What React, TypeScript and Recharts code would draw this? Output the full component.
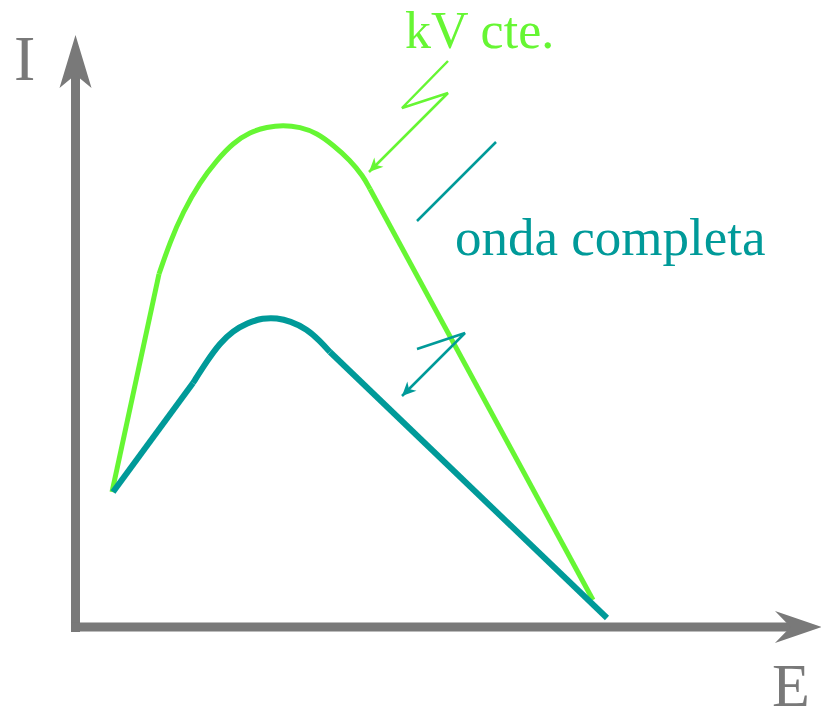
import { LineChart, Line, XAxis, YAxis, ReferenceLine, ReferenceDot } from "recharts";

// E (x) and I (y) readings, origin at the axis corner
const GREEN_RISE = [
  { x: 37, y: 135 },
  { x: 84, y: 353 },
];
const GREEN_ARC = [
  { x: 84, y: 353 },
  { x: 95, y: 385 },
  { x: 108, y: 415 },
  { x: 125, y: 445 },
  { x: 142, y: 467 },
  { x: 158, y: 484 },
  { x: 175, y: 495 },
  { x: 192, y: 500 },
  { x: 208, y: 502 },
  { x: 225, y: 500 },
  { x: 242, y: 494 },
  { x: 258, y: 482 },
  { x: 275, y: 467 },
  { x: 288, y: 451 },
  { x: 295, y: 438 },
];
const GREEN_FALL = [
  { x: 295, y: 438 },
  { x: 518, y: 27 },
];

const TEAL_RISE = [
  { x: 38, y: 135 },
  { x: 118, y: 244 },
];
const TEAL_ARC = [
  { x: 118, y: 244 },
  { x: 132, y: 266 },
  { x: 145, y: 284 },
  { x: 158, y: 296 },
  { x: 172, y: 304 },
  { x: 188, y: 309 },
  { x: 202, y: 309 },
  { x: 215, y: 306 },
  { x: 232, y: 298 },
  { x: 245, y: 286 },
  { x: 255, y: 275 },
];
const TEAL_FALL = [
  { x: 255, y: 275 },
  { x: 532, y: 9 },
];

// annotation strokes
const KV_POINTER = [
  { x: 373, y: 566 },
  { x: 327, y: 519 },
  { x: 373, y: 534 },
  { x: 294, y: 455 },
];
const ONDA_TICK = [
  { x: 421, y: 485 },
  { x: 342, y: 406 },
];
const ONDA_POINTER = [
  { x: 342, y: 278 },
  { x: 390, y: 294 },
  { x: 327, y: 231 },
];

const GREEN = "#66f633";
const TEAL = "#009a99";
const GRAY = "#797979";
const FONT = "'Liberation Serif', 'DejaVu Serif', serif";

const angleOf = (pts: { x: number; y: number }[]) => {
  const a = pts[pts.length - 2];
  const b = pts[pts.length - 1];
  return Math.atan2(-(b.y - a.y), b.x - a.x);
};

const arrowShape =
  (angle: number, len: number, half: number, notch: number, color: string) =>
  (props: any) => {
    const { cx, cy } = props;
    const c = Math.cos(angle);
    const s = Math.sin(angle);
    const pt = (u: number, v: number) => `${cx + u * c - v * s},${cy + u * s + v * c}`;
    const points = [pt(0, 0), pt(-len, -half), pt(-len * notch, 0), pt(-len, half)].join(" ");
    return <polygon points={points} fill={color} stroke="none" />;
  };

const textShape =
  (value: string, size: number, color: string) =>
  (props: any) => (
    <text x={props.cx} y={props.cy} fontSize={size} fill={color} fontFamily={FONT}>
      {value}
    </text>
  );

export default function App() {
  const lineProps = { dataKey: "y", dot: false, isAnimationActive: false, activeDot: false } as const;
  const last = (p: { x: number; y: number }[]) => p[p.length - 1];
  return (
    <div style={{ position: "absolute", left: 0, top: 0, background: "#fff" }}>
      <LineChart width={821} height={709} margin={{ top: 0, right: 0, bottom: 0, left: 0 }}>
        <XAxis type="number" dataKey="x" domain={[-75, 746]} allowDataOverflow hide />
        <YAxis type="number" domain={[-82, 627]} allowDataOverflow hide />

        <ReferenceLine segment={[{ x: 0.5, y: -5 }, { x: 0.5, y: 560 }]} stroke={GRAY} strokeWidth={9} ifOverflow="visible" />
        <ReferenceLine segment={[{ x: -4, y: 0 }, { x: 720, y: 0 }]} stroke={GRAY} strokeWidth={9} ifOverflow="visible" />
        <ReferenceDot x={0.5} y={592} r={0} ifOverflow="visible" shape={arrowShape(-Math.PI / 2, 53, 16, 0.75, GRAY)} />
        <ReferenceDot x={747} y={0} r={0} ifOverflow="visible" shape={arrowShape(0, 47, 16, 0.67, GRAY)} />

        <Line {...lineProps} data={GREEN_RISE} type="linear" stroke={GREEN} strokeWidth={5} />
        <Line {...lineProps} data={GREEN_ARC} type="basis" stroke={GREEN} strokeWidth={5} />
        <Line {...lineProps} data={GREEN_FALL} type="linear" stroke={GREEN} strokeWidth={5} />

        <Line {...lineProps} data={TEAL_RISE} type="linear" stroke={TEAL} strokeWidth={6} />
        <Line {...lineProps} data={TEAL_ARC} type="basis" stroke={TEAL} strokeWidth={6} />
        <Line {...lineProps} data={TEAL_FALL} type="linear" stroke={TEAL} strokeWidth={6} />

        <Line {...lineProps} data={KV_POINTER} type="linear" stroke={GREEN} strokeWidth={2.5} />
        <Line {...lineProps} data={ONDA_TICK} type="linear" stroke={TEAL} strokeWidth={2.5} />
        <Line {...lineProps} data={ONDA_POINTER} type="linear" stroke={TEAL} strokeWidth={2.5} />
        <ReferenceDot x={last(KV_POINTER).x} y={last(KV_POINTER).y} r={0} ifOverflow="visible" shape={arrowShape(angleOf(KV_POINTER), 14, 6.5, 0.7, GREEN)} />
        <ReferenceDot x={last(ONDA_POINTER).x} y={last(ONDA_POINTER).y} r={0} ifOverflow="visible" shape={arrowShape(angleOf(ONDA_POINTER), 14, 6.5, 0.7, TEAL)} />

        <ReferenceDot x={-61} y={547} r={0} ifOverflow="visible" shape={textShape("I", 64, GRAY)} />
        <ReferenceDot x={697} y={-79} r={0} ifOverflow="visible" shape={textShape("E", 62, GRAY)} />
        <ReferenceDot x={330} y={579} r={0} ifOverflow="visible" shape={textShape("kV cte.", 52, GREEN)} />
        <ReferenceDot x={380} y={372} r={0} ifOverflow="visible" shape={textShape("onda completa", 53, TEAL)} />
      </LineChart>
    </div>
  );
}
